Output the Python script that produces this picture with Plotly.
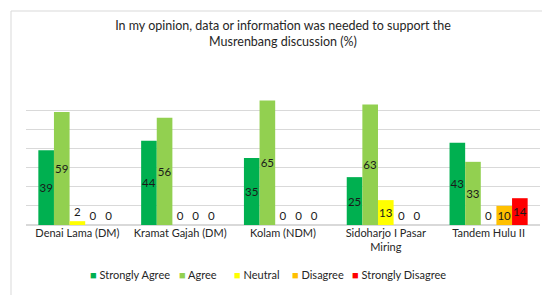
import plotly.graph_objects as go

# =========================
# DATA
# =========================

villages = [
    "Denai Lama (DM)",
    "Kramat Gajah (DM)",
    "Kolam (NDM)",
    "Sidoharjo I Pasar<br>Miring",
    "Tandem Hulu II",
]

strongly_agree = [39, 44, 35, 25, 43]
agree = [59, 56, 65, 63, 33]
neutral = [2, 0, 0, 13, 0]
disagree = [0, 0, 0, 0, 10]
strongly_disagree = [0, 0, 0, 0, 14]

SERIES = [
    ("Strongly Agree", strongly_agree, "#00B050"),
    ("Agree", agree, "#92D050"),
    ("Neutral", neutral, "#FFFF00"),
    ("Disagree", disagree, "#FFC000"),
    ("Strongly Disagree", strongly_disagree, "#FF0000"),
]

FONT = "Lato"
TEXT = "#262626"

# =========================
# FIGURE
# =========================

fig = go.Figure()

for name, values, color in SERIES:
    fig.add_trace(
        go.Bar(
            x=villages,
            y=values,
            name=name,
            showlegend=False,
            marker=dict(color=color, line=dict(width=0)),
            text=[str(v) for v in values],
            textposition=["inside" if v >= 10 else "outside" for v in values],
            insidetextanchor="middle",
            textangle=0,
            textfont=dict(family=FONT, size=11.5, color="#1a1a1a"),
            cliponaxis=False,
        )
    )

# margins chosen so the plot area sits where the reference draws it
L, R, T, B = 18, 18, 83, 78
W, H = 550, 295
pw, ph = W - L - R, H - T - B


def px_x(x):
    return (x - L) / pw


def px_y(y):
    return ((H - B) - y) / ph


# legend drawn as text: coloured square + label, like the Excel legend
legend_x = [80, 169, 224, 282, 342]
annotations = []
for (name, _, color), lx in zip(SERIES, legend_x):
    annotations.append(
        dict(
            text=f'<span style="color:{color}">■</span> {name}',
            x=px_x(lx),
            y=px_y(266),
            xref="paper",
            yref="paper",
            xanchor="left",
            yanchor="middle",
            showarrow=False,
            font=dict(family=FONT, size=11, color=TEXT),
        )
    )

fig.update_layout(
    width=W,
    height=H,
    barmode="group",
    bargap=0.24,
    bargroupgap=0,
    plot_bgcolor="white",
    paper_bgcolor="white",
    margin=dict(l=L, r=R, t=T, b=B),
    font=dict(family=FONT, size=11, color=TEXT),
    uniformtext=dict(mode="show", minsize=11),
    title=dict(
        text="In my opinion, data or information was needed to support the<br>Musrenbang discussion (%)",
        x=0.5,
        xanchor="center",
        y=1 - 22 / H,
        yanchor="top",
        font=dict(family=FONT, size=12.5, color=TEXT),
    ),
    xaxis=dict(
        showgrid=False,
        showline=False,
        ticks="",
        tickfont=dict(family=FONT, size=11, color=TEXT),
    ),
    yaxis=dict(
        range=[0, 70],
        dtick=10,
        showticklabels=False,
        gridcolor="#D9D9D9",
        gridwidth=1,
        zeroline=True,
        zerolinecolor="#D9D9D9",
        showline=False,
        ticks="",
    ),
    annotations=annotations,
    shapes=[
        dict(
            type="rect",
            xref="paper",
            yref="paper",
            x0=px_x(3),
            x1=px_x(547),
            y0=px_y(292),
            y1=px_y(3),
            line=dict(color="#D9D9D9", width=1),
            fillcolor="rgba(0,0,0,0)",
            layer="below",
        )
    ],
)

fig.write_html("out.html")
